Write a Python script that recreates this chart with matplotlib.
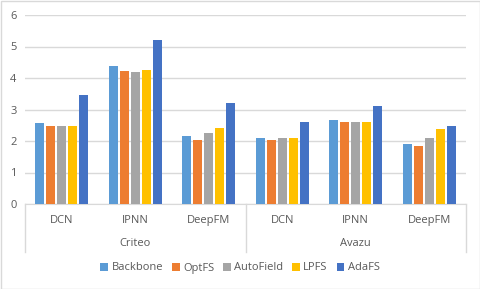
import numpy as np
import matplotlib.pyplot as plt
from matplotlib.patches import Rectangle

# values
datasets = ['Criteo', 'Avazu']
models = ['DCN', 'IPNN', 'DeepFM']
methods = ['Backbone', 'OptFS', 'AutoField', 'LPFS', 'AdaFS']
colors = ['#5B9BD5', '#ED7D31', '#A5A5A5', '#FFC000', '#4472C4']

backbone = [2.56, 4.38, 2.16, 2.10, 2.67, 1.90]
optfs = [2.48, 4.22, 2.03, 2.03, 2.60, 1.84]
autofield = [2.48, 4.19, 2.25, 2.10, 2.60, 2.10]
lpfs = [2.48, 4.25, 2.41, 2.10, 2.60, 2.38]
adafs = [3.46, 5.21, 3.21, 2.60, 3.11, 2.48]
series = [backbone, optfs, autofield, lpfs, adafs]

W, H = 480, 289
fig = plt.figure(figsize=(W / 100, H / 100), dpi=100)
plt.rcParams['font.family'] = ['Open Sans', 'DejaVu Sans']

# plot area in pixels: x 25..466, y 15..204
ax = fig.add_axes([25 / W, (H - 204) / H, (466 - 25) / W, (204 - 15) / H])

n = len(methods)
x = np.arange(len(models) * len(datasets))
step = 0.15
width = 0.12
for i, (name, vals) in enumerate(zip(methods, series)):
    ax.bar(x + (i - (n - 1) / 2) * step, vals, width, color=colors[i], label=name, zorder=3)

ax.set_xlim(-0.5, len(x) - 0.5)
ax.set_ylim(0, 6)
ax.set_yticks(range(7))
ax.yaxis.grid(True, color='#D9D9D9', linewidth=1, zorder=0)
for s in ['top', 'right', 'left']:
    ax.spines[s].set_visible(False)
ax.spines['bottom'].set_color('#D9D9D9')
ax.tick_params(axis='y', length=0, labelsize=8, labelcolor='#595959', pad=6)
ax.set_xticks(x)
ax.set_xticklabels(models * len(datasets))
ax.tick_params(axis='x', length=0, labelsize=8, labelcolor='#595959', pad=8)

# category separators and group labels
tr = ax.get_xaxis_transform()
depth = 48 / 189
for xv in [-0.5, 2.5, 5.5]:
    ax.plot([xv, xv], [0, -depth], transform=tr, color='#D9D9D9', linewidth=1, clip_on=False)
for j, d in enumerate(datasets):
    ax.text(j * 3 + 1, -39 / 189, d, transform=tr, ha='center', va='center',
            fontsize=8, color='#595959')

ax.legend(loc='center', bbox_to_anchor=(0.5, (289 - 268) / H), bbox_transform=fig.transFigure,
          ncol=5, frameon=False, fontsize=8, handlelength=0.7, handleheight=0.7,
          handletextpad=0.3, columnspacing=0.8, labelcolor='#595959')

# chart border
fig.patches.append(Rectangle((0.5 / W, 0.5 / H), 1 - 1 / W, 1 - 1 / H, transform=fig.transFigure,
                             fill=False, edgecolor='#D9D9D9', linewidth=1))

fig.savefig('out.png', dpi=100)
